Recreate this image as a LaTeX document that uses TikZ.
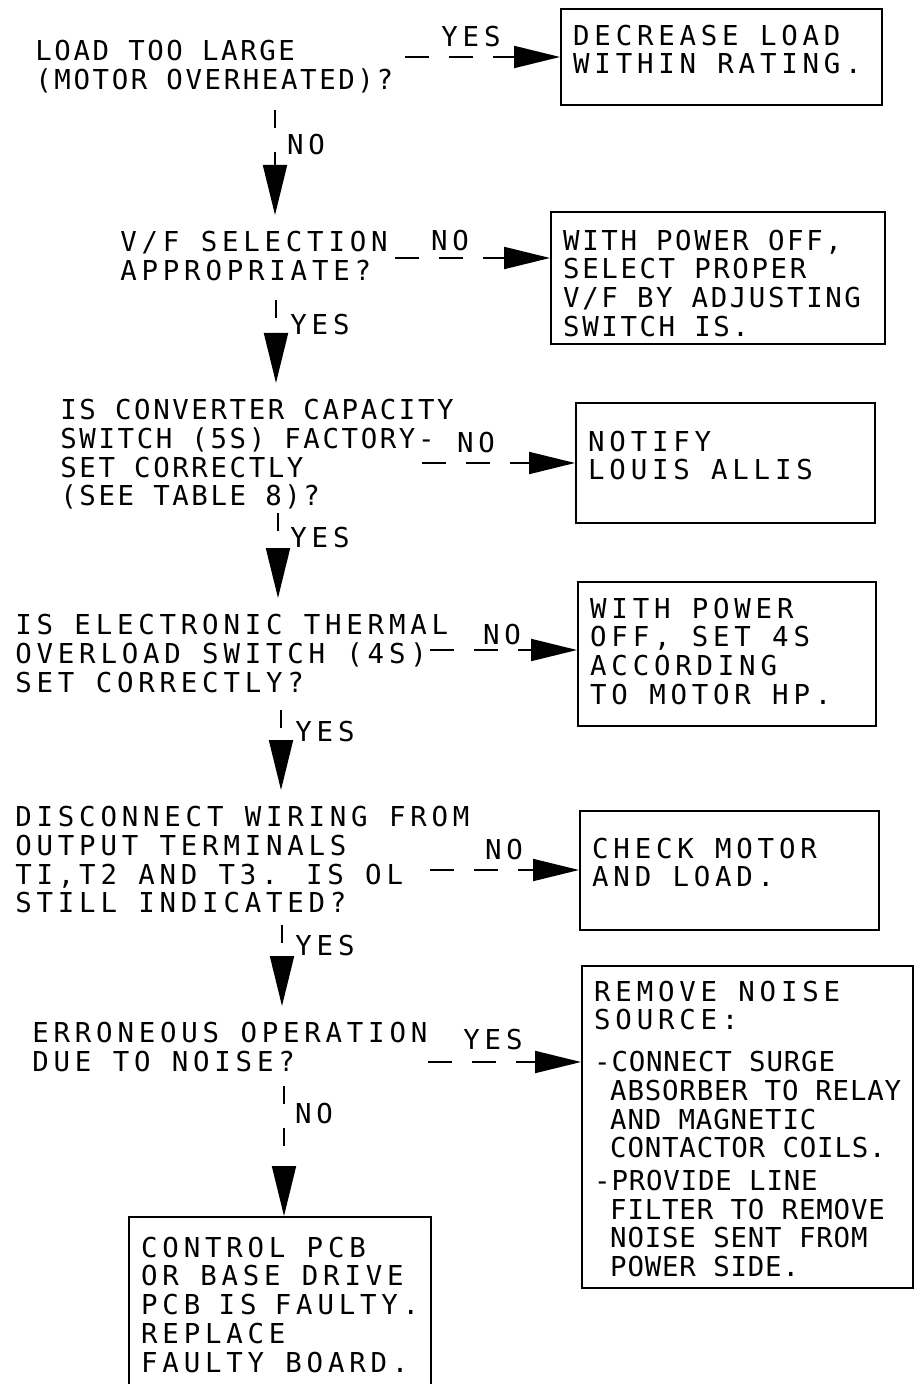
\documentclass[tikz,border=0pt]{standalone}
\usepackage{fontspec}
\usetikzlibrary{arrows.meta}
\newfontfamily\chartfont{DejaVu Sans Mono}[LetterSpace=17.5]
\newfontfamily\chartmid{DejaVu Sans Mono}[LetterSpace=9.5]
\newfontfamily\chartnarrow{DejaVu Sans Mono}[LetterSpace=3]
\newcommand{\bul}[1]{{\chartnarrow #1}}

\begin{document}
\begin{tikzpicture}[
    x=0.5pt, y=-0.5pt,
    font=\chartfont\fontsize{13.7pt}{14.35pt}\selectfont,
    tight/.style={font=\chartmid\fontsize{13.7pt}{14.35pt}\selectfont},
    question/.style={anchor=north west, inner sep=0pt, align=left},
    actbox/.style={draw, line width=1.2pt, anchor=north west, align=left, inner xsep=6pt, inner ysep=0pt,
        execute at begin node={\spaceskip=0pt\xspaceskip=0pt}},
    lbl/.style={inner sep=0pt},
    hline/.style={line width=1pt, dash pattern=on 12pt off 10pt, -{Triangle[length=23pt, width=11pt]}},
    vline/.style={line width=1pt, dash pattern=on 9pt off 12pt, -{Triangle[length=25pt, width=12pt]}, shorten >=8pt}
]
\useasboundingbox (0,0) rectangle (914,1384);
\clip (0,0) rectangle (914,1384);

% --- Questions ---
\node[question, tight] (q1) at (35,40) {LOAD TOO LARGE\\(MOTOR OVERHEATED)?};
\node[question] (q2) at (120,231) {V/F SELECTION\\APPROPRIATE?};
\node[question, tight] (q3) at (60,399) {IS CONVERTER CAPACITY\\SWITCH (5S) FACTORY-\\SET CORRECTLY\\(SEE TABLE 8)?};
\node[question] (q4) at (15,614) {IS ELECTRONIC THERMAL\\OVERLOAD SWITCH (4S)\\SET CORRECTLY?};
\node[question] (q5) at (15,806) {DISCONNECT WIRING FROM\\OUTPUT TERMINALS\\TI,T2 AND T3. IS OL\\STILL INDICATED?};
\node[question] (q6) at (32,1022) {ERRONEOUS OPERATION\\DUE TO NOISE?};

% --- Actions ---
\node[actbox, text width=148.5pt, text height=18pt, text depth=30pt] (b1) at (560,8) {DECREASE LOAD\\WITHIN RATING.};
\node[actbox, tight, text width=155pt, text height=19pt, text depth=47pt] (b2) at (550,211) {WITH POWER OFF,\\SELECT PROPER\\V/F BY ADJUSTING\\SWITCH IS.};
\node[actbox, text width=137.5pt, text height=24pt, text depth=36pt] (b3) at (575,402) {NOTIFY\\LOUIS ALLIS};
\node[actbox, text width=137pt, text height=18pt, text depth=54pt] (b4) at (577,581) {WITH POWER\\OFF, SET 4S\\ACCORDING\\TO MOTOR HP.};
\node[actbox, text width=137.5pt, text height=23.5pt, text depth=36pt] (b5) at (579,810) {CHECK MOTOR\\AND LOAD.};
\node[actbox, text width=153.5pt, text height=17.5pt, text depth=143.5pt] (b6) at (581,965) {REMOVE NOISE\\SOURCE:\\[6.5pt]
    \bul{-CONNECT SURGE}\\
    \bul{\hspace*{8pt}ABSORBER TO RELAY}\\
    \bul{\hspace*{8pt}AND MAGNETIC}\\
    \bul{\hspace*{8pt}CONTACTOR COILS.}\\[2pt]
    \bul{-PROVIDE LINE}\\
    \bul{\hspace*{8pt}FILTER TO REMOVE}\\
    \bul{\hspace*{8pt}NOISE SENT FROM}\\
    \bul{\hspace*{8pt}POWER SIDE.}};
\node[actbox, text width=139pt, text height=20pt, text depth=80pt] (b7) at (128,1216) {CONTROL PCB\\OR BASE DRIVE\\PCB IS FAULTY.\\REPLACE\\FAULTY BOARD.};

% --- Side branches ---
\coordinate (h1) at (405,57);
\coordinate (h2) at (395,258);
\coordinate (h3) at (422,463);
\coordinate (h4) at (430,650);
\coordinate (h5) at (430,870);
\coordinate (h6) at (428,1062);

\draw[hline] (h1) -- (b1.west |- h1);
\draw[hline] (h2) -- (b2.west |- h2);
\draw[hline] (h3) -- (b3.west |- h3);
\draw[hline] (h4) -- (b4.west |- h4);
\draw[hline] (h5) -- (b5.west |- h5);
\draw[hline] (h6) -- (b6.west |- h6);

\node[lbl] (y1) at (471,37) {YES};
\node[lbl] (n2) at (450,241) {NO};
\node[lbl] (n3) at (476,443) {NO};
\node[lbl] (n4) at (502,635) {NO};
\node[lbl] (n5) at (504,850) {NO};
\node[lbl] (y6) at (493,1040) {YES};

% --- Main line ---
\coordinate (v1) at (275,110);
\coordinate (v2) at (276,300);
\coordinate (v3) at (278,513);
\coordinate (v4) at (281,710);
\coordinate (v5) at (282,925);
\coordinate (v6) at (284,1086);

\draw[vline] (v1) -- (v1 |- q2.north);
\draw[vline] (v2) -- (v2 |- q3.north);
\draw[vline] (v3) -- (v3 |- q4.north);
\draw[vline] (v4) -- (v4 |- q5.north);
\draw[vline] (v5) -- (v5 |- q6.north);
\draw[vline, shorten >=0pt] (v6) -- (v6 |- b7.north);

\node[lbl] (n1) at (306,145) {NO};
\node[lbl] (y2) at (320,325) {YES};
\node[lbl] (y3) at (320,538) {YES};
\node[lbl] (y4) at (325,732) {YES};
\node[lbl] (y5) at (325,946) {YES};
\node[lbl] (n6) at (314,1114) {NO};

\end{tikzpicture}
\end{document}
